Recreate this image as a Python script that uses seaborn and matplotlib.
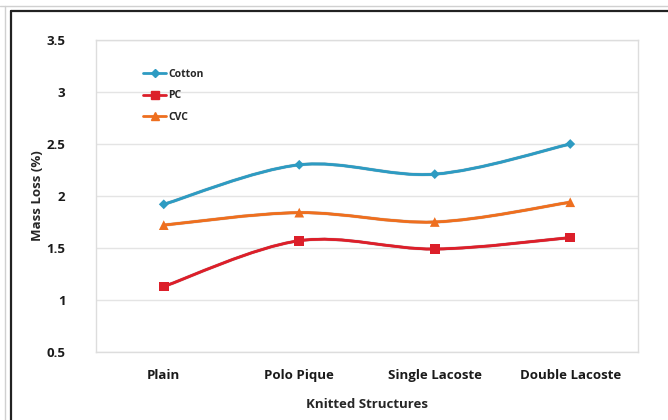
import numpy as np
import pandas as pd
import matplotlib
matplotlib.use("Agg")
import matplotlib.pyplot as plt
import matplotlib.patheffects as pe
from matplotlib.path import Path
from matplotlib.patches import PathPatch
from matplotlib.lines import Line2D
import seaborn as sns

# data
structures = ["Plain", "Polo Pique", "Single Lacoste", "Double Lacoste"]
cotton = [1.92, 2.30, 2.21, 2.50]
pc = [1.13, 1.57, 1.49, 1.60]
cvc = [1.72, 1.84, 1.75, 1.94]

series_names = ["Cotton", "PC", "CVC"]
colors = {"Cotton": "#2E9BC2", "PC": "#DC1F2A", "CVC": "#EE6F1F"}
markers = {"Cotton": "D", "PC": "s", "CVC": "^"}
msizes = {"Cotton": 5, "PC": 7, "CVC": 7}

df = pd.DataFrame({"Structure": structures * 3,
                   "Series": [s for s in series_names for _ in structures],
                   "Mass Loss": cotton + pc + cvc})
df["x"] = df["Structure"].map({s: i for i, s in enumerate(structures)})

sns.set_theme(style="white")
plt.rcParams["font.family"] = ["Open Sans", "DejaVu Sans"]

fig = plt.figure(figsize=(6.68, 4.2), dpi=100)
ax = fig.add_axes([96 / 668, 1 - 352 / 420, (638 - 96) / 668, (352 - 40) / 420])


def smooth_path(xs, ys):
    # Excel-style smoothed line: cubic Bezier through each point
    pts = np.column_stack([xs, ys]).astype(float)
    n = len(pts)
    verts = [pts[0]]
    codes = [Path.MOVETO]
    for i in range(n - 1):
        p0 = pts[max(i - 1, 0)]
        p1 = pts[i]
        p2 = pts[i + 1]
        p3 = pts[min(i + 2, n - 1)]
        c1 = p1 + (p2 - p0) / 6.0
        c2 = p2 - (p3 - p1) / 6.0
        verts += [c1, c2, p2]
        codes += [Path.CURVE4] * 3
    return Path(verts, codes)


for name in series_names:
    sub = df[df["Series"] == name]
    patch = PathPatch(smooth_path(sub["x"].values, sub["Mass Loss"].values),
                      facecolor="none", edgecolor=colors[name], lw=1.9, zorder=3)
    patch.set_path_effects([pe.withStroke(linewidth=2.6, foreground=(0.6, 0.6, 0.6, 0.35)), pe.Normal()])
    ax.add_patch(patch)

sns.scatterplot(data=df, x="x", y="Mass Loss", hue="Series", style="Series",
                palette=colors, markers=markers, size="Series", sizes={k: v ** 2 for k, v in msizes.items()},
                edgecolor="none", legend=False, ax=ax, zorder=4)

ax.set_xlim(-0.5, 3.5)
ax.set_ylim(0.5, 3.5)
ax.set_yticks(np.arange(0.5, 3.51, 0.5))
ax.set_yticklabels(["0.5", "1", "1.5", "2", "2.5", "3", "3.5"])
ax.set_xticks(range(len(structures)))
ax.set_xticklabels(structures)
ax.tick_params(axis="both", length=0, labelsize=9.5, colors="#1a1a1a")
ax.tick_params(axis="y", pad=22)
ax.tick_params(axis="x", pad=12)
for lab in ax.get_xticklabels() + ax.get_yticklabels():
    lab.set_fontweight("bold")
ax.grid(axis="y", color="#E4E4E4", lw=1)
ax.set_axisbelow(True)
for sp in ax.spines.values():
    sp.set_color("#DDDDDD")
    sp.set_linewidth(1)

ax.set_xlabel("Knitted Structures", fontsize=9.5, fontweight="bold", labelpad=12)
ax.set_ylabel("Mass Loss (%)", fontsize=9.5, fontweight="bold", labelpad=2)

handles = [Line2D([], [], color=colors[n], marker=markers[n], markersize=msizes[n] * 0.75, lw=2)
           for n in series_names]
leg = ax.legend(handles, series_names, loc="upper left", bbox_to_anchor=(0.07, 0.937),
                frameon=False, fontsize=7.5, handlelength=2.2, handletextpad=0.2, labelspacing=1.0)
for t in leg.get_texts():
    t.set_fontweight("bold")

# outer frame lines from the source screenshot
fig.add_artist(Line2D([0, 1], [1 - 6 / 420, 1 - 6 / 420], color="#D0D0D0", lw=1))
fig.add_artist(Line2D([5 / 668, 5 / 668], [0, 1 - 6 / 420], color="#D0D0D0", lw=1))
fig.add_artist(Line2D([11 / 668, 1], [1 - 11 / 420, 1 - 11 / 420], color="#222222", lw=1.6))
fig.add_artist(Line2D([11 / 668, 11 / 668], [0, 1 - 11 / 420], color="#222222", lw=1.6))

fig.savefig("out.png", dpi=100)
